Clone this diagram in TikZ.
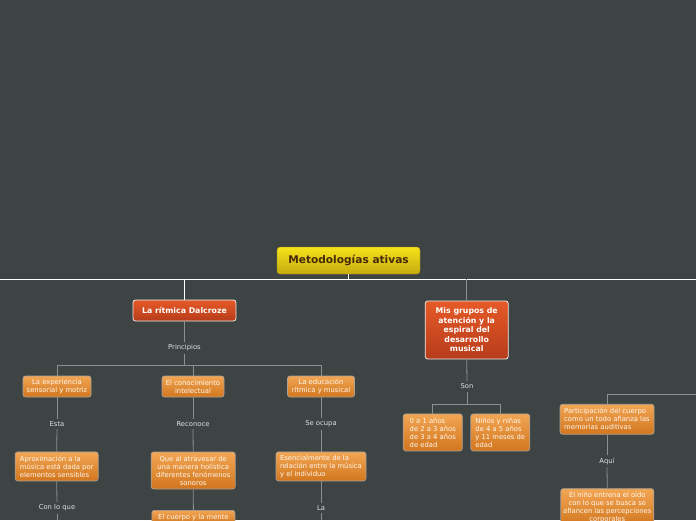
\documentclass[tikz,border=0pt]{standalone}
\usepackage{fontspec}
\setmainfont{DejaVu Sans}
\definecolor{bg}{RGB}{62,68,68}
\definecolor{lineg}{RGB}{140,144,144}
\definecolor{otop}{RGB}{242,166,84}
\definecolor{obot}{RGB}{210,118,30}
\definecolor{oborder}{RGB}{170,160,150}
\definecolor{otext}{RGB}{255,248,238}
\definecolor{rtop}{RGB}{230,90,40}
\definecolor{rbot}{RGB}{182,60,26}
\definecolor{ytop}{RGB}{246,226,26}
\definecolor{ybot}{RGB}{198,172,16}
\definecolor{ytext}{RGB}{70,42,10}
\definecolor{lbltext}{RGB}{222,224,224}
\newcommand\smallf{\fontsize{6.8}{8}\selectfont}
\newcommand\medf{\fontsize{7.8}{9.5}\selectfont}
\newcommand\bigf{\fontsize{10.6}{12}\selectfont}
\tikzset{
  conn/.style={draw=lineg, line width=0.8pt},
  wline/.style={draw=white, line width=0.9pt},
  sz/.style 2 args={minimum width=#1, minimum height=#2},
  obox/.style={rounded corners=2.5pt, draw=oborder, line width=0.7pt, top color=otop, bottom color=obot, text=otext, font=\smallf, inner sep=0pt, align=center},
  olbox/.style={obox, align=left},
  rbox/.style={rounded corners=2.5pt, draw=white!85!gray, line width=0.8pt, top color=rtop, bottom color=rbot, text=white, font=\bfseries\medf, inner sep=0pt, align=center},
  ybox/.style={rounded corners=3pt, draw=ybot!80!black, line width=0.4pt, top color=ytop, bottom color=ybot, text=ytext, font=\bfseries\bigf, inner sep=0pt},
  lbl/.style={text=lbltext, font=\smallf, inner sep=2.5pt},
}
\begin{document}
\begin{tikzpicture}[x=1pt,y=-1pt]
\clip (0,0) rectangle (696,520);
\fill[bg] (0,0) rectangle (696,520);

% nodes
\node[ybox, sz={143pt}{27pt}] (root) at (348.5,260.5) {Metodologías ativas};
\node[rbox, sz={103pt}{21pt}] (dal) at (184.5,310.5) {La rítmica Dalcroze};
\node[rbox, sz={83pt}{58pt}] (mis) at (466.7,330) {Mis grupos de\\atención y la\\espiral del\\desarrollo\\musical};

\node[lbl] (pri) at (184.5,348) {Principios};
\node[obox, sz={68pt}{21pt}] (exp) at (57,386.5) {La experiencia\\sensorial y motriz};
\node[obox, sz={62pt}{21pt}] (con) at (193,386.5) {El conocimiento\\intelectual};
\node[obox, sz={67pt}{21pt}] (edu) at (321,386.5) {La educación\\rítmica y musical};

\node[lbl] (esta) at (57,424) {Esta};
\node[lbl] (rec) at (193,424) {Reconoce};
\node[lbl] (seo) at (321,424) {Se ocupa};

\node[olbox, sz={83pt}{29pt}] (apr) at (56.7,466.4) {Aproximación a la\\música está dada por\\elementos sensibles};
\node[obox, sz={84pt}{37pt}] (que) at (193.2,470.5) {Que al atravesar de\\una manera holística\\diferentes fenómenos\\sonoros};
\node[olbox, sz={90pt}{29pt}] (ese) at (321,466.4) {Esencialmente de la\\relación entre la música\\y el individuo};

\node[lbl] (clq) at (57,508) {Con lo que};
\node[lbl] (la) at (321,508) {La};
\node[obox, sz={83pt}{14pt}, anchor=north] (cue) at (193.4,510) {El cuerpo y la mente};

\node[lbl] (son) at (467,386.5) {Son};
\node[olbox, sz={59pt}{37pt}] (age1) at (432.8,432.4) {0 a 1 años\\de 2 a 3 años\\de 3 a 4 años\\de edad};
\node[olbox, sz={59pt}{37pt}] (age2) at (500.3,432.4) {Niños y niñas\\de 4 a 5 años\\y 11 meses de\\edad};

\node[olbox, sz={94pt}{30pt}] (par) at (607,419.3) {Participación del cuerpo\\como un todo afianza las\\memorias auditivas};
\node[lbl] (aqui) at (607,461.3) {Aquí};
\node[obox, sz={93pt}{38pt}, anchor=north] (nin) at (607.3,488.3) {El niño entrena el oído\\con lo que se busca se\\afiancen las percepciones\\corporales};

% coordinates
\coordinate (mL) at (0,279);
\coordinate (mR) at (696,279);
\coordinate (mroot) at (348.5,279);
\coordinate (mdal) at (184.5,279);
\coordinate (mmis) at (466.7,279);
\coordinate (b1) at (184.5,365);
\coordinate (bL) at (57,365);
\coordinate (bM) at (193,365);
\coordinate (bR) at (321,365);
\coordinate (e1) at (57,520);
\coordinate (e2) at (321,520);
\coordinate (s1) at (467,404);
\coordinate (sL) at (432.8,404);
\coordinate (sR) at (500.3,404);
\coordinate (pR) at (696,394);
\coordinate (pC) at (607,394);

% connectors
\draw[wline] (mL) -- (mR);
\draw[wline] (root.south) -- (mroot);
\draw[wline] (mdal) -- (dal.north);
\draw[conn] (mmis) -- (mis.north);

\draw[conn] (dal.south) -- (pri.north);
\draw[conn] (pri.south) -- (b1);
\draw[conn] (bL) -- (bR);
\draw[conn] (bL) -- (exp.north);
\draw[conn] (bM) -- (con.north);
\draw[conn] (bR) -- (edu.north);

\draw[conn] (exp.south) -- (esta.north);
\draw[conn] (esta.south) -- (apr.north);
\draw[conn] (apr.south) -- (clq.north);
\draw[conn] (clq.south) -- (e1);

\draw[conn] (con.south) -- (rec.north);
\draw[conn] (rec.south) -- (que.north);
\draw[conn] (que.south) -- (cue.north);

\draw[conn] (edu.south) -- (seo.north);
\draw[conn] (seo.south) -- (ese.north);
\draw[conn] (ese.south) -- (la.north);
\draw[conn] (la.south) -- (e2);

\draw[conn] (mis.south) -- (son.north);
\draw[conn] (son.south) -- (s1);
\draw[conn] (sL) -- (sR);
\draw[conn] (sL) -- (age1.north);
\draw[conn] (sR) -- (age2.north);

\draw[conn] (pR) -- (pC) -- (par.north);
\draw[conn] (par.south) -- (aqui.north);
\draw[conn] (aqui.south) -- (nin.north);
\end{tikzpicture}
\end{document}
